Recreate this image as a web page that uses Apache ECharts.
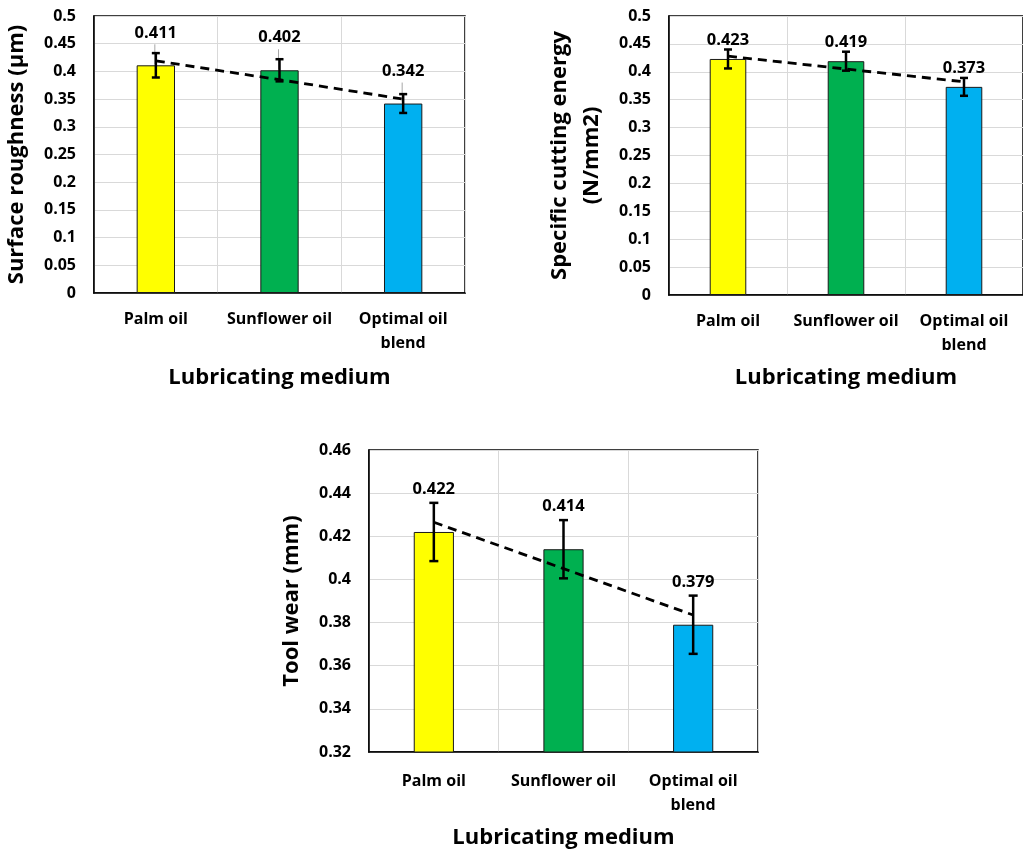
<!DOCTYPE html>
<html>
<head>
<meta charset="utf-8">
<script src="https://cdn.jsdelivr.net/npm/echarts@6/dist/echarts.min.js"></script>
<style>
html,body{margin:0;padding:0;background:#fff;}
#chart{width:1023px;height:850px;}
</style>
</head>
<body>
<div id="chart"></div>
<script>
const categories = ['Palm oil', 'Sunflower oil', 'Optimal oil\nblend'];
const barColors = ['#FFFF00', '#00B050', '#00B0F0'];

const roughness = [0.411, 0.402, 0.342];
const roughnessErr = [0.022, 0.020, 0.017];
const roughnessTrend = [0.419, 0.385, 0.350];

const energy = [0.423, 0.419, 0.373];
const energyErr = [0.017, 0.017, 0.016];
const energyTrend = [0.428, 0.405, 0.382];

const wear = [0.422, 0.414, 0.379];
const wearErr = [0.0135, 0.0135, 0.0135];
const wearTrend = [0.4265, 0.405, 0.3835];

const FONT = '"Open Sans", Lato, sans-serif';
const chart = echarts.init(document.getElementById('chart'));

function xAxis(gi, gap, margin) {
  return {
    type: 'category', gridIndex: gi, data: categories,
    name: 'Lubricating medium', nameLocation: 'middle', nameGap: gap,
    nameTextStyle: {fontFamily: FONT, fontWeight: 'bold', fontSize: 22, color: '#000'},
    axisLine: {lineStyle: {color: '#000', width: 1.5}},
    axisTick: {show: false},
    axisLabel: {fontFamily: FONT, fontWeight: 'bold', fontSize: 16, color: '#000', margin: margin, lineHeight: 24, interval: 0},
    splitLine: {show: true, lineStyle: {color: '#d9d9d9', width: 1}}
  };
}
function yAxis(gi, name, min, max, interval) {
  return {
    type: 'value', gridIndex: gi, min: min, max: max, interval: interval,
    name: name, nameLocation: 'middle', nameGap: 61, nameRotate: 90,
    nameTextStyle: {fontFamily: FONT, fontWeight: 'bold', fontSize: 22, color: '#000', lineHeight: 32},
    axisLine: {show: true, lineStyle: {color: '#000', width: 1.5}},
    axisTick: {show: false},
    axisLabel: {fontFamily: FONT, fontWeight: 'bold', fontSize: 16, color: '#000', margin: 18},
    splitLine: {show: true, lineStyle: {color: '#d9d9d9', width: 1}}
  };
}
function barSeries(gi, vals, dist) {
  return {
    type: 'bar', xAxisIndex: gi, yAxisIndex: gi, barWidth: '31%', z: 2,
    data: vals.map((v, i) => ({value: v, itemStyle: {color: barColors[i]}})),
    itemStyle: {borderColor: '#1a1a1a', borderWidth: 1},
    label: {show: true, position: 'top', distance: dist, fontFamily: FONT, fontWeight: 'bold', fontSize: 16.5, color: '#000'}
  };
}
function trendSeries(gi, vals) {
  return {
    type: 'line', xAxisIndex: gi, yAxisIndex: gi, data: vals, symbol: 'none', z: 3,
    lineStyle: {color: '#000', width: 2.8, type: [9, 6]}, silent: true
  };
}
function errSeries(gi, vals, errs, cap, leader) {
  return {
    type: 'custom', xAxisIndex: gi, yAxisIndex: gi, z: 4, silent: true,
    data: vals.map((v, i) => [i, v, errs[i]]),
    encode: {x: 0, y: 1},
    renderItem: function (params, api) {
      const x = api.value(0), v = api.value(1), e = api.value(2);
      const top = api.coord([x, v + e]);
      const bot = api.coord([x, v - e]);
      const mid = api.coord([x, v]);
      const st = {stroke: '#000', lineWidth: 2.5};
      const children = [
        {type: 'line', shape: {x1: top[0], y1: top[1], x2: bot[0], y2: bot[1]}, style: st},
        {type: 'line', shape: {x1: top[0] - cap, y1: top[1], x2: top[0] + cap, y2: top[1]}, style: st},
        {type: 'line', shape: {x1: bot[0] - cap, y1: bot[1], x2: bot[0] + cap, y2: bot[1]}, style: st}
      ];
      if (leader) {
        children.unshift({type: 'line', shape: {x1: mid[0] - 1, y1: mid[1] - 21, x2: mid[0] - 1, y2: mid[1] - 1}, style: {stroke: '#a6a6a6', lineWidth: 1}});
      }
      return {type: 'group', children: children};
    }
  };
}

chart.setOption({
  backgroundColor: '#fff',
  animation: false,
  grid: [
    {left: 93, top: 16, width: 372, height: 277, show: true, borderColor: '#000', borderWidth: 1.5, backgroundColor: 'transparent'},
    {left: 669, top: 16, width: 365, height: 279, show: true, borderColor: '#000', borderWidth: 1.5, backgroundColor: 'transparent'},
    {left: 369, top: 450, width: 389, height: 304, show: true, borderColor: '#000', borderWidth: 1.5, backgroundColor: 'transparent'}
  ],
  xAxis: [xAxis(0, 74, 14), xAxis(1, 72, 14), xAxis(2, 75, 17)],
  yAxis: [
    yAxis(0, 'Surface roughness (µm)', 0, 0.5, 0.05),
    yAxis(1, 'Specific cutting energy\n(N/mm2)', 0, 0.5, 0.05),
    yAxis(2, 'Tool wear (mm)', 0.32, 0.46, 0.02)
  ],
  series: [
    barSeries(0, roughness, 24), trendSeries(0, roughnessTrend), errSeries(0, roughness, roughnessErr, 4, true),
    barSeries(1, energy, 10), trendSeries(1, energyTrend), errSeries(1, energy, energyErr, 4, false),
    barSeries(2, wear, 34), trendSeries(2, wearTrend), errSeries(2, wear, wearErr, 4.5, false)
  ]
});
</script>
</body>
</html>
